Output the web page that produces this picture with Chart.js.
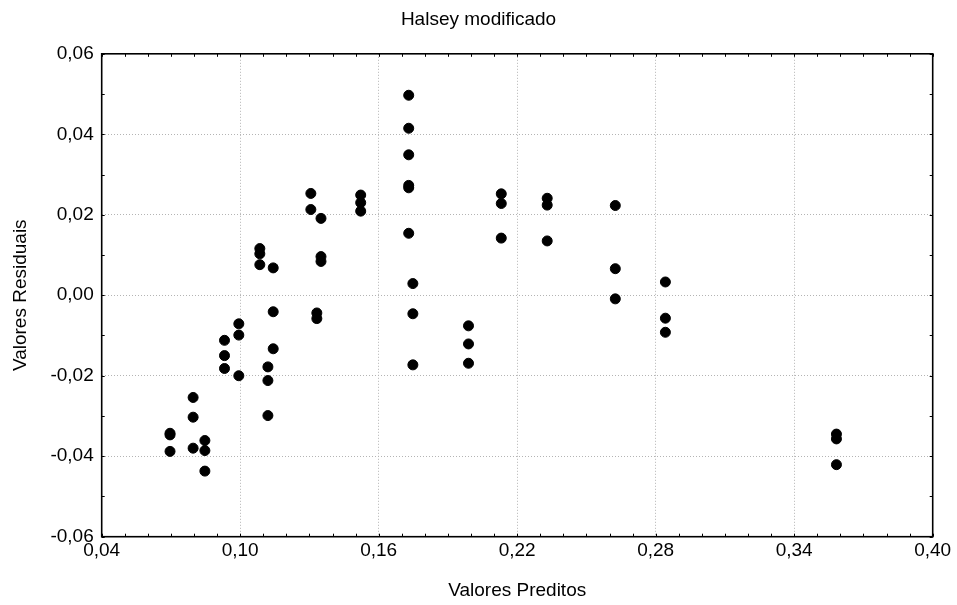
<!DOCTYPE html>
<html>
<head>
<meta charset="utf-8">
<script src="https://cdn.jsdelivr.net/npm/chart.js@4"></script>
<style>
  html, body { margin: 0; padding: 0; background: #fff; }
  #wrap { width: 957px; height: 605px; }
</style>
</head>
<body>
<div id="wrap"><canvas id="chart" width="957" height="605"></canvas></div>
<script>
// valores (Halsey modificado)
const predicted = [
  0.0696, 0.0696, 0.0696,
  0.0796, 0.0796, 0.0796,
  0.0847, 0.0847, 0.0847,
  0.0932, 0.0932, 0.0932,
  0.0994, 0.0994, 0.0994,
  0.1085, 0.1085, 0.1085,
  0.1120, 0.1120, 0.1120,
  0.1143, 0.1143, 0.1143,
  0.1306, 0.1306,
  0.1332, 0.1332,
  0.1350, 0.1350, 0.1350,
  0.1522, 0.1522, 0.1522,
  0.1730, 0.1730, 0.1730, 0.1730, 0.1730, 0.1730,
  0.1748, 0.1748, 0.1748,
  0.1989, 0.1989, 0.1989,
  0.2131, 0.2131, 0.2131,
  0.2330, 0.2330, 0.2330,
  0.2625, 0.2625, 0.2625,
  0.2842, 0.2842, 0.2842,
  0.3583, 0.3583, 0.3583
];
const residual = [
  -0.0343, -0.0347, -0.0388,
  -0.0254, -0.0303, -0.0380,
  -0.0361, -0.0386, -0.0437,
  -0.0112, -0.0150, -0.0182,
  -0.0071, -0.0099, -0.0200,
  0.0116, 0.0103, 0.0076,
  -0.0178, -0.0212, -0.0299,
  0.0068, -0.0041, -0.0133,
  0.0253, 0.0213,
  -0.0044, -0.0058,
  0.0191, 0.0096, 0.0084,
  0.0249, 0.0230, 0.0209,
  0.0497, 0.0415, 0.0349, 0.0273, 0.0267, 0.0154,
  0.0029, -0.0046, -0.0173,
  -0.0076, -0.0121, -0.0169,
  0.0252, 0.0228, 0.0142,
  0.0241, 0.0224, 0.0135,
  0.0223, 0.0066, -0.0009,
  0.0033, -0.0057, -0.0092,
  -0.0345, -0.0357, -0.0421
];
const xTicks = [0.04, 0.10, 0.16, 0.22, 0.28, 0.34, 0.40];
const yTicks = [-0.06, -0.04, -0.02, 0.00, 0.02, 0.04, 0.06];

const FONT = "'Liberation Sans', Arial, sans-serif";
const fmt = v => (Math.abs(v) < 1e-9 ? 0 : v).toFixed(2).replace('.', ',');

// moldura preta + marcas menores para dentro (a cada 0,01)
const frameTicks = {
  id: 'frameTicks',
  beforeDatasetsDraw(chart) {
    const { ctx, chartArea: a, scales: { x, y } } = chart;
    const len = 3;
    ctx.save();
    ctx.strokeStyle = '#000';
    ctx.lineWidth = 1;
    ctx.beginPath();
    for (let i = 4; i <= 40; i++) {
      const px = Math.round(x.getPixelForValue(i / 100)) + 0.5;
      ctx.moveTo(px, a.bottom); ctx.lineTo(px, a.bottom - len);
      ctx.moveTo(px, a.top); ctx.lineTo(px, a.top + len);
    }
    for (let i = -6; i <= 6; i++) {
      const py = Math.round(y.getPixelForValue(i / 100)) + 0.5;
      ctx.moveTo(a.left, py); ctx.lineTo(a.left + len, py);
      ctx.moveTo(a.right, py); ctx.lineTo(a.right - len, py);
    }
    ctx.stroke();
    ctx.lineWidth = 1.6;
    ctx.strokeRect(a.left, a.top, a.right - a.left, a.bottom - a.top);
    ctx.restore();
  }
};

new Chart(document.getElementById('chart'), {
  type: 'scatter',
  data: {
    datasets: [{
      data: predicted.map((v, i) => ({ x: v, y: residual[i] })),
      backgroundColor: '#000',
      borderColor: '#000',
      pointRadius: 5,
      pointHoverRadius: 5
    }]
  },
  options: {
    responsive: false,
    animation: false,
    devicePixelRatio: 1,
    layout: { padding: { left: 0, right: 0, top: 0, bottom: 0 } },
    plugins: {
      legend: { display: false },
      tooltip: { enabled: false },
      title: {
        display: true,
        text: 'Halsey modificado',
        color: '#000',
        font: { family: FONT, size: 19, weight: 'normal' },
        padding: { top: 8, bottom: 23 }
      }
    },
    scales: {
      x: {
        type: 'linear',
        min: 0.04, max: 0.40,
        afterBuildTicks: s => { s.ticks = xTicks.map(v => ({ value: v })); },
        afterFit: s => { s.height = 68.3; },
        ticks: { color: '#000', font: { family: FONT, size: 19 }, padding: 3, callback: v => fmt(v), maxRotation: 0 },
        grid: { color: '#b4b4b4', lineWidth: 1, drawTicks: false },
        border: { display: false, dash: [1, 2] },
        title: { display: true, text: 'Valores Preditos', color: '#000', font: { family: FONT, size: 19 }, padding: { top: 0, bottom: 3 } }
      },
      y: {
        type: 'linear',
        min: -0.06, max: 0.06,
        afterBuildTicks: s => { s.ticks = yTicks.map(v => ({ value: v })); },
        afterFit: s => { s.width = 101.7; },
        ticks: { color: '#000', font: { family: FONT, size: 19 }, padding: 8, callback: v => fmt(v) },
        grid: { color: '#b4b4b4', lineWidth: 1, drawTicks: false },
        border: { display: false, dash: [1, 2] },
        title: { display: true, text: 'Valores Residuais', color: '#000', font: { family: FONT, size: 19 }, padding: { top: 9, bottom: 0 } }
      },
      yRight: {
        type: 'linear',
        position: 'right',
        min: -0.06, max: 0.06,
        afterFit: s => { s.width = 24.3; },
        ticks: { display: false },
        grid: { display: false, drawTicks: false },
        border: { display: false }
      }
    }
  },
  plugins: [frameTicks]
});
</script>
</body>
</html>
